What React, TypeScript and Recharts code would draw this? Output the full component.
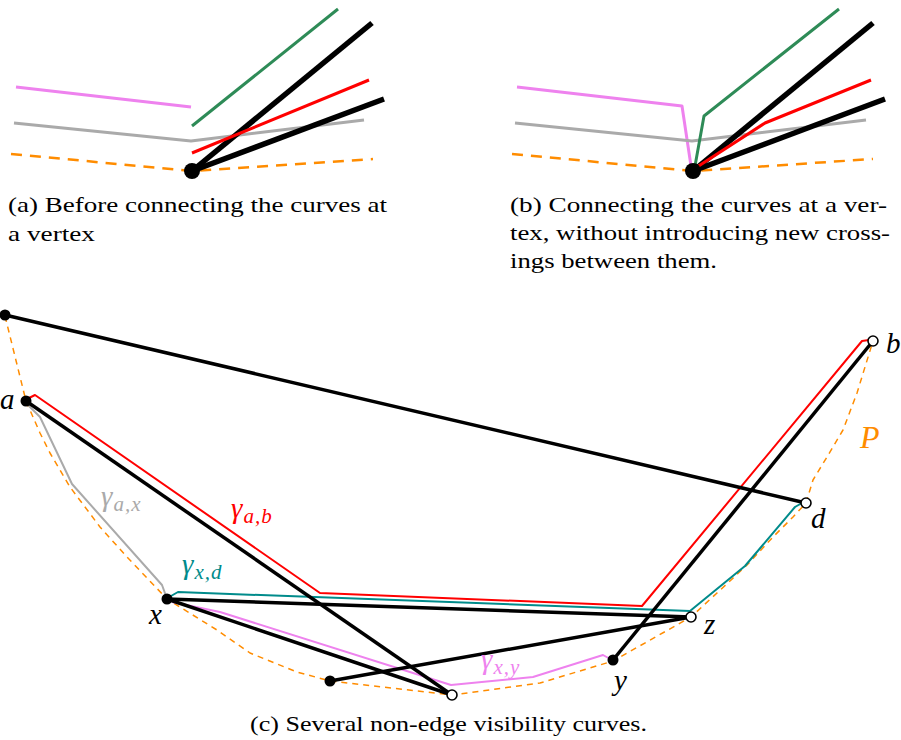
import React from "react";
import { ComposedChart, Scatter, XAxis, YAxis } from "recharts";

const W = 901;
const H = 740;

// panel (a): curves before they are joined at the vertex
const aPink = [{ x: 16, y: 87 }, { x: 191, y: 107 }];
const aGray = [{ x: 14, y: 123 }, { x: 191, y: 141 }, { x: 364, y: 120 }];
const aBoundary = [{ x: 11, y: 154 }, { x: 192, y: 171 }, { x: 373, y: 159 }];
const aGreen = [{ x: 192, y: 126 }, { x: 338, y: 9 }];
const aRed = [{ x: 192, y: 153 }, { x: 369, y: 80 }];
const aEdge1 = [{ x: 192, y: 171 }, { x: 372, y: 23 }];
const aEdge2 = [{ x: 192, y: 171 }, { x: 384, y: 99 }];
const aVertex = [{ x: 192, y: 171 }];

// panel (b): the same curves connected at the vertex
const bPink = [{ x: 517, y: 87 }, { x: 682, y: 106 }, { x: 691, y: 166 }];
const bGray = [{ x: 515, y: 123 }, { x: 692, y: 141 }, { x: 866, y: 120 }];
const bBoundary = [{ x: 512, y: 154 }, { x: 693, y: 171 }, { x: 873, y: 159 }];
const bGreen = [{ x: 695, y: 166 }, { x: 704, y: 116 }, { x: 839, y: 9 }];
const bRed = [{ x: 694, y: 169 }, { x: 765, y: 123 }, { x: 871, y: 80 }];
const bEdge1 = [{ x: 693, y: 171 }, { x: 873, y: 23 }];
const bEdge2 = [{ x: 693, y: 171 }, { x: 885, y: 99 }];
const bVertex = [{ x: 693, y: 171 }];

// panel (c): polygon boundary P
const polygonP = [
  { x: 5, y: 316 }, { x: 26, y: 401 }, { x: 40, y: 433 }, { x: 50, y: 453 },
  { x: 70, y: 487 }, { x: 100, y: 527 }, { x: 127, y: 557 }, { x: 167, y: 599 },
  { x: 217, y: 630 }, { x: 250, y: 653 }, { x: 297, y: 672 }, { x: 330, y: 681 },
  { x: 452, y: 695 }, { x: 540, y: 683 }, { x: 613, y: 661 }, { x: 691, y: 617 },
  { x: 717, y: 593 }, { x: 747, y: 565 }, { x: 773, y: 537 }, { x: 793, y: 517 },
  { x: 806, y: 503 }, { x: 813, y: 480 }, { x: 827, y: 457 }, { x: 843, y: 430 },
  { x: 857, y: 393 }, { x: 865, y: 367 }, { x: 873, y: 341 },
];

// visibility curves
const curveAX = [{ x: 26, y: 403 }, { x: 40, y: 417 }, { x: 72, y: 484 }, { x: 162, y: 585 }, { x: 166, y: 596 }];
const curveAB = [{ x: 29, y: 398 }, { x: 35, y: 395 }, { x: 320, y: 593 }, { x: 642, y: 606 }, { x: 862, y: 341 }, { x: 869, y: 340 }];
const curveXD = [{ x: 171, y: 596 }, { x: 178, y: 592 }, { x: 690, y: 611 }, { x: 745, y: 566 }, { x: 795, y: 507 }, { x: 802, y: 503 }];
const curveXY = [{ x: 172, y: 602 }, { x: 220, y: 612 }, { x: 451, y: 685 }, { x: 533, y: 677 }, { x: 603, y: 655 }, { x: 612, y: 660 }];

// straight edges
const edges = [
  [{ x: 5, y: 315 }, { x: 806, y: 503 }],
  [{ x: 26, y: 401 }, { x: 452, y: 695 }],
  [{ x: 167, y: 599 }, { x: 691, y: 617 }],
  [{ x: 167, y: 599 }, { x: 452, y: 695 }],
  [{ x: 330, y: 681 }, { x: 691, y: 617 }],
  [{ x: 613, y: 660 }, { x: 873, y: 341 }],
];

const filledVertices = [
  { x: 5, y: 315 }, { x: 26, y: 401 }, { x: 167, y: 599 }, { x: 330, y: 681 }, { x: 613, y: 660 },
];
const openVertices = [
  { x: 873, y: 341 }, { x: 806, y: 503 }, { x: 691, y: 617 }, { x: 452, y: 695 },
];

const vertexLabels = [
  { x: 0, y: 409, name: "a" },
  { x: 886, y: 353, name: "b" },
  { x: 811, y: 528, name: "d" },
  { x: 704, y: 634, name: "z" },
  { x: 149, y: 624, name: "x" },
  { x: 614, y: 690, name: "y" },
];

const curveLabels = [
  { x: 101, y: 506, sub: "a,x" },
  { x: 231, y: 518, sub: "a,b" },
  { x: 182, y: 574, sub: "x,d" },
  { x: 481, y: 669, sub: "x,y" },
];

const polygonLabel = [{ x: 860, y: 448, name: "P" }];

const captions = [
  { x: 8, y: 212, text: "(a) Before connecting the curves at" },
  { x: 8, y: 241, text: "a vertex" },
  { x: 510, y: 212, text: "(b) Connecting the curves at a ver-" },
  { x: 510, y: 240, text: "tex, without introducing new cross-" },
  { x: 510, y: 268, text: "ings between them." },
  { x: 250, y: 731, text: "(c) Several non-edge visibility curves." },
];

const captionWidth: Record<string, number> = {
  "(a) Before connecting the curves at": 379,
  "a vertex": 87,
  "(b) Connecting the curves at a ver-": 377,
  "tex, without introducing new cross-": 380,
  "ings between them.": 207,
  "(c) Several non-edge visibility curves.": 397,
};

const PINK = "#ee82ee";
const GRAY = "#aaaaaa";
const ORANGE = "#ff8c00";
const GREEN = "#2e8b57";
const RED = "#ff0000";
const TEAL = "#008b8b";
const SERIF = "Liberation Serif, Times New Roman, Times, serif";

const curveColor: Record<string, string> = {
  "a,x": GRAY,
  "a,b": RED,
  "x,d": TEAL,
  "x,y": PINK,
};

const Nothing = () => <g />;

const bigDot = (p: any) => <circle cx={p.cx} cy={p.cy} r={8} fill="#000" />;
const filledDot = (p: any) => <circle cx={p.cx} cy={p.cy} r={5.5} fill="#000" />;
const openDot = (p: any) => (
  <circle cx={p.cx} cy={p.cy} r={5} fill="#fff" stroke="#000" strokeWidth={1.6} />
);

const VertexText = (p: any) => (
  <text x={p.cx} y={p.cy} style={{ fontFamily: SERIF, fontStyle: "italic", fontSize: 29 }} fill="#000">
    {p.payload.name}
  </text>
);

const PolygonText = (p: any) => (
  <text x={p.cx} y={p.cy} style={{ fontFamily: SERIF, fontStyle: "italic", fontSize: 32 }} fill={ORANGE}>
    {p.payload.name}
  </text>
);

const CurveText = (p: any) => (
  <text x={p.cx} y={p.cy} style={{ fontFamily: SERIF, fontStyle: "italic" }} fill={curveColor[p.payload.sub]}>
    <tspan style={{ fontSize: 29 }}>γ</tspan>
    <tspan style={{ fontSize: 21 }} dx={1} dy={5} letterSpacing={1}>{p.payload.sub}</tspan>
  </text>
);

const CaptionText = (p: any) => (
  <text
    x={p.cx}
    y={p.cy}
    style={{ fontFamily: SERIF, fontSize: 22 }}
    fill="#000"
    textLength={captionWidth[p.payload.text]}
    lengthAdjust="spacingAndGlyphs"
  >
    {p.payload.text}
  </text>
);

const polyline = (key: string, data: { x: number; y: number }[], stroke: string, width: number, dash?: string) => (
  <Scatter
    key={key}
    data={data}
    shape={Nothing}
    isAnimationActive={false}
    line={{
      stroke,
      strokeWidth: width,
      strokeDasharray: dash,
      strokeLinejoin: "round",
      fill: "none",
    }}
  />
);

export default function App() {
  return (
    <div style={{ position: "absolute", left: 0, top: 0, background: "#fff" }}>
      <ComposedChart width={W} height={H} margin={{ top: 0, right: 0, bottom: 0, left: 0 }}>
        <XAxis type="number" dataKey="x" domain={[0, W]} hide allowDataOverflow />
        <YAxis type="number" dataKey="y" domain={[0, H]} reversed hide allowDataOverflow />

        {polyline("aPink", aPink, PINK, 3)}
        {polyline("aGray", aGray, GRAY, 3)}
        {polyline("aBoundary", aBoundary, ORANGE, 2.5, "11 8")}
        {polyline("aGreen", aGreen, GREEN, 3)}
        {polyline("aEdge1", aEdge1, "#000", 5.5)}
        {polyline("aEdge2", aEdge2, "#000", 5.5)}
        {polyline("aRed", aRed, RED, 3)}
        <Scatter data={aVertex} shape={bigDot} isAnimationActive={false} />

        {polyline("bPink", bPink, PINK, 3)}
        {polyline("bGray", bGray, GRAY, 3)}
        {polyline("bBoundary", bBoundary, ORANGE, 2.5, "11 8")}
        {polyline("bGreen", bGreen, GREEN, 3)}
        {polyline("bEdge1", bEdge1, "#000", 5.5)}
        {polyline("bEdge2", bEdge2, "#000", 5.5)}
        {polyline("bRed", bRed, RED, 3)}
        <Scatter data={bVertex} shape={bigDot} isAnimationActive={false} />

        {polyline("polygonP", polygonP, ORANGE, 1.5, "6 5")}
        {polyline("curveAX", curveAX, GRAY, 2)}
        {polyline("curveAB", curveAB, RED, 2)}
        {polyline("curveXD", curveXD, TEAL, 2)}
        {polyline("curveXY", curveXY, PINK, 2)}
        {edges.map((e, i) => polyline(`edge${i}`, e, "#000", 3.5))}
        <Scatter data={filledVertices} shape={filledDot} isAnimationActive={false} />
        <Scatter data={openVertices} shape={openDot} isAnimationActive={false} />

        <Scatter data={vertexLabels} shape={VertexText} isAnimationActive={false} />
        <Scatter data={curveLabels} shape={CurveText} isAnimationActive={false} />
        <Scatter data={polygonLabel} shape={PolygonText} isAnimationActive={false} />
        <Scatter data={captions} shape={CaptionText} isAnimationActive={false} />
      </ComposedChart>
    </div>
  );
}
